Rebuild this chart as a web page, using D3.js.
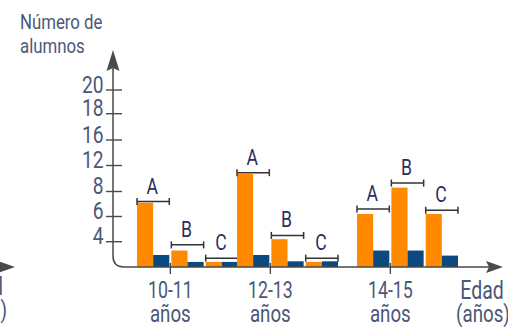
<!DOCTYPE html>
<html>
<head>
<meta charset="utf-8">
<script src="https://cdn.jsdelivr.net/npm/d3@7"></script>
<style>
  html, body { margin: 0; padding: 0; background: #fff; }
  svg { display: block; }
  text { font-family: Roboto, "Noto Sans", sans-serif; }
</style>
</head>
<body>
<svg id="chart" width="508" height="327"></svg>
<script>
// ---- data ----
const ages = ["10-11", "12-13", "14-15"];
const groups = ["A", "B", "C"];
const yTickValues = [4, 6, 8, 12, 16, 18, 20];
// orange bars (per age group: A, B, C)
const orangeValues = [
  [7.1, 2.6, 0.8],
  [10.7, 4.2, 0.8],
  [6.2, 8.6, 6.2]
];
// dark blue bars (per age group: A, B, C)
const blueValues = [
  [1.9, 0.8, 0.8],
  [1.9, 0.9, 0.9],
  [2.6, 2.6, 1.8]
];
// bracket (range marker) heights above each A/B/C pair
const bracketValues = [
  [7.2, 3.5, 1.4],
  [10.9, 4.5, 1.4],
  [6.6, 9.3, 6.5]
];
const yTitle = ["Número de", "alumnos"];
const xTitle = ["Edad", "(años)"];
const xSub = "años";

// ---- layout ----
const svg = d3.select("#chart");
const textCol = "#4b5877";
const axisCol = "#4a4a4a";
const orange = "#ff8a00";
const blue = "#0a4a80";

const y = d3.scaleLinear()
  .domain([0, 4, 6, 8, 12, 16, 18, 20])
  .range([267, 241.7, 216.5, 191.5, 165.5, 140, 113.7, 90]);

const xGroup = d3.scaleOrdinal().domain(ages).range([137, 237, 357]);
const xInner = d3.scaleBand().domain(groups).range([0, 101]).paddingInner(0.06).paddingOuter(0);
const bw = xInner.bandwidth() / 2;

function cText(g, x, yy, str, size, anchor, sx, color) {
  return g.append("text")
    .attr("transform", `translate(${x},${yy}) scale(${sx},1)`)
    .attr("text-anchor", anchor)
    .attr("font-size", size)
    .attr("fill", color || textCol)
    .text(str);
}

const axisX = 113;
const base = y(0);

// x ticks (behind bars)
ages.forEach(a => {
  const tx = xGroup(a) + xInner("B") - 1;
  svg.append("line").attr("x1", tx).attr("x2", tx).attr("y1", base - 4).attr("y2", base + 7)
    .attr("stroke", axisCol).attr("stroke-width", 1.4);
});

// bars
ages.forEach((a, i) => {
  groups.forEach((gname, j) => {
    const x0 = xGroup(a) + xInner(gname);
    svg.append("rect").attr("x", x0).attr("width", bw)
      .attr("y", y(orangeValues[i][j])).attr("height", base - y(orangeValues[i][j]))
      .attr("fill", orange);
    svg.append("rect").attr("x", x0 + bw).attr("width", bw)
      .attr("y", y(blueValues[i][j])).attr("height", base - y(blueValues[i][j]))
      .attr("fill", blue);
    // bracket
    const by = y(bracketValues[i][j]);
    const bx1 = x0, bx2 = x0 + xInner.bandwidth();
    const br = svg.append("g").attr("stroke", "#333").attr("stroke-width", 1.5);
    br.append("line").attr("x1", bx1).attr("x2", bx2).attr("y1", by).attr("y2", by);
    br.append("line").attr("x1", bx1).attr("x2", bx1).attr("y1", by - 3.5).attr("y2", by + 3.5);
    br.append("line").attr("x1", bx2).attr("x2", bx2).attr("y1", by - 3.5).attr("y2", by + 3.5);
    cText(svg, (bx1 + bx2) / 2 - 1, by - 8, gname, 22, "middle", 0.8, "#2c2f5e");
  });
});

// axes: rounded corner path
const r = 11;
svg.append("path")
  .attr("d", `M${axisX},68 L${axisX},${base - r} Q${axisX},${base} ${axisX + r},${base} L490,${base}`)
  .attr("fill", "none").attr("stroke", axisCol).attr("stroke-width", 1.5);
// y arrow head
svg.append("path").attr("d", `M${axisX},50 L${axisX + 6.5},71 L${axisX},68 L${axisX - 6.5},71 Z`).attr("fill", axisCol);
// x arrow head
svg.append("path").attr("d", `M503,${base} L486,${base - 6} L489,${base} L486,${base + 6} Z`).attr("fill", axisCol);

// y ticks & labels
yTickValues.forEach(v => {
  const ty = y(v);
  svg.append("line").attr("x1", axisX - 7).attr("x2", axisX + 9).attr("y1", ty).attr("y2", ty)
    .attr("stroke", axisCol).attr("stroke-width", 1.4);
  cText(svg, 103.5, ty + 2.5, String(v), 24, "end", 0.8);
});

// x labels
ages.forEach(a => {
  const tx = xGroup(a) + xInner("B") - 1;
  cText(svg, tx, 298, a, 24, "middle", 0.74);
  cText(svg, tx, 322, xSub, 24, "middle", 0.78);
});

// titles
cText(svg, 20, 29, yTitle[0], 21, "start", 0.8);
cText(svg, 20, 53, yTitle[1], 21, "start", 0.8);
cText(svg, 482, 299, xTitle[0], 25, "middle", 0.78);
cText(svg, 483, 322, xTitle[1], 24, "middle", 0.78);

// remnants of neighbouring figure at the left edge (cut off)
svg.append("path").attr("d", `M15,${base} L-2,${base - 6} L-2,${base + 6} Z`).attr("fill", axisCol);
cText(svg, 3, 295, xTitle[0], 25, "end", 0.78);
cText(svg, 7, 318, xTitle[1], 24, "end", 0.78);
</script>
</body>
</html>
